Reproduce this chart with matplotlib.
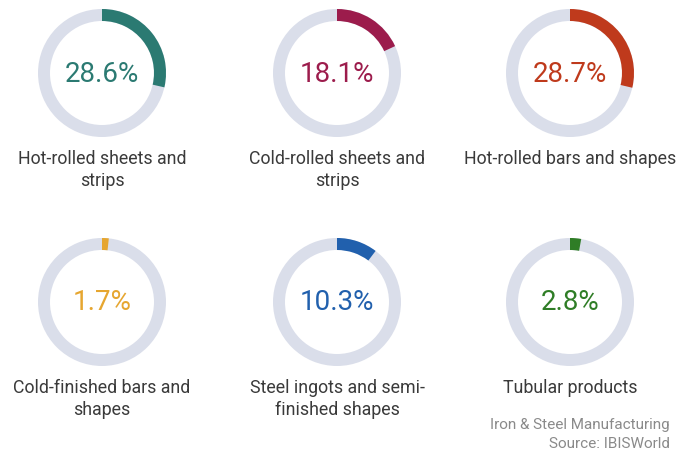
import matplotlib.pyplot as plt
from matplotlib.patches import Wedge

# share of output by product segment
labels = ['Hot-rolled sheets and\nstrips', 'Cold-rolled sheets and\nstrips',
          'Hot-rolled bars and shapes', 'Cold-finished bars and\nshapes',
          'Steel ingots and semi-\nfinished shapes', 'Tubular products']
shares = [28.6, 18.1, 28.7, 1.7, 10.3, 2.8]
colors = ['#2b7a72', '#9c1c4c', '#bf3a1c', '#e6a630', '#2160ad', '#2f7d26']

plt.rcParams['font.family'] = ['Roboto', 'DejaVu Sans']

fig = plt.figure(figsize=(6.78, 4.56), dpi=100)
ax = fig.add_axes([0, 0, 1, 1])
ax.set_xlim(0, 678)
ax.set_ylim(456, 0)
ax.set_aspect('equal')
ax.axis('off')

col_x = [102, 337, 570]
row_y = [74, 303]
r_out = 64
ring_w = 12

for i, (lab, val, c) in enumerate(zip(labels, shares, colors)):
    cx = col_x[i % 3]
    cy = row_y[i // 3]
    # grey track, then the coloured share clockwise from 12 o'clock
    ax.add_patch(Wedge((cx, cy), r_out, 0, 360, width=ring_w,
                       facecolor='#dadeea', edgecolor='none'))
    # y axis is inverted, so angles run clockwise on screen
    ax.add_patch(Wedge((cx, cy), r_out, -90, -90 + 3.6 * val, width=ring_w,
                       facecolor=c, edgecolor='none'))
    ax.text(cx, cy, f'{val}%', ha='center', va='center',
            fontsize=20, color=c)
    ax.text(cx, cy + 76, lab, ha='center', va='top', fontsize=12.8,
            color='#3a3a3a', linespacing=1.3)

ax.text(670, 425, 'Iron & Steel Manufacturing', ha='right', va='center',
        fontsize=11, color='#8a8a8a')
ax.text(670, 444, 'Source: IBISWorld', ha='right', va='center',
        fontsize=11, color='#8a8a8a')

fig.savefig('out.png', dpi=100, facecolor='white')
